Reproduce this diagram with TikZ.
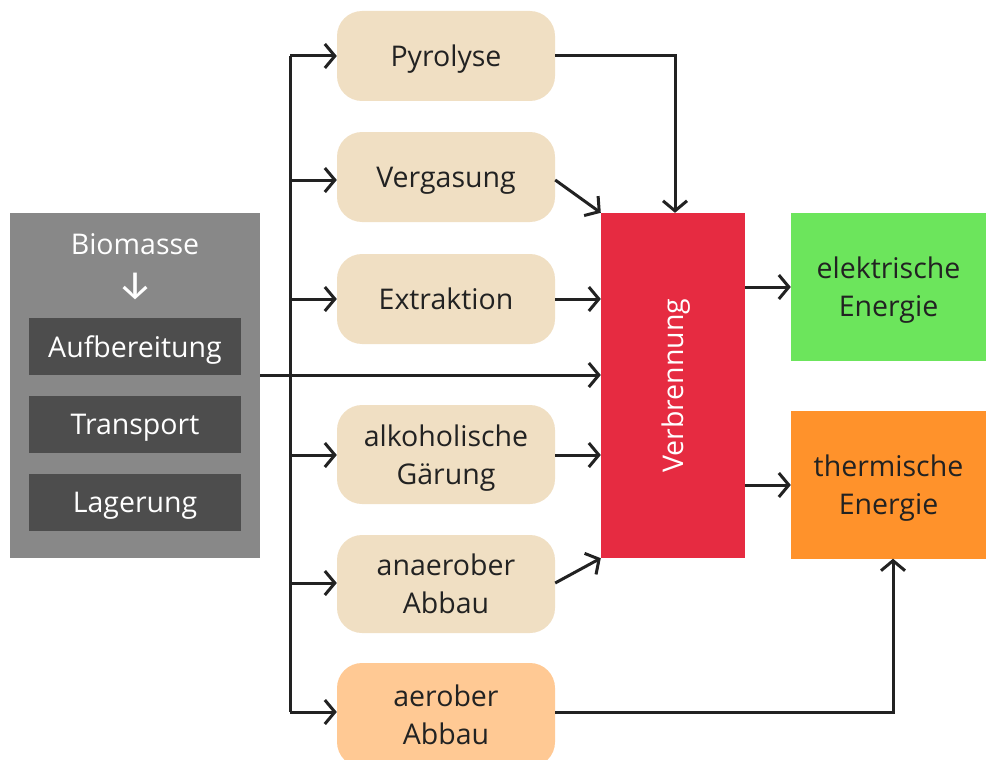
\documentclass[tikz,border=0pt]{standalone}
\usepackage{fontspec}
\setmainfont{Open Sans}
\newfontfamily\arrowfont{Fira Sans}
\usetikzlibrary{arrows.meta}
\definecolor{outergray}{HTML}{888888}
\definecolor{innergray}{HTML}{4D4D4D}
\definecolor{beige}{HTML}{F0DFC3}
\definecolor{peach}{HTML}{FFC994}
\definecolor{burnred}{HTML}{E62B41}
\definecolor{elgreen}{HTML}{6CE55C}
\definecolor{thorange}{HTML}{FF922B}
\definecolor{linecol}{HTML}{222222}
\begin{document}
\begin{tikzpicture}[x=1pt,y=-1pt,
  txt/.style={font=\fontsize{28.5}{38}\selectfont, align=center, text=linecol, text depth=0pt},
  proc/.style={txt, fill=beige, rounded corners=25pt, minimum width=218pt, inner sep=0pt},
  darkbox/.style={fill=innergray, minimum width=212pt, minimum height=57pt, inner sep=0pt, text=white, font=\fontsize{28.5}{30}\selectfont, text depth=0pt},
  energybox/.style={txt, minimum width=195pt, minimum height=148pt, inner sep=0pt},
  conn/.style={line width=3pt, draw=linecol, -{Straight Barb[length=10pt,width=24pt,line width=3pt]}},
  plain/.style={line width=3pt, draw=linecol}]
\useasboundingbox (0,0) rectangle (986,760);
% left block
\node[fill=outergray, minimum width=250pt, minimum height=345pt, inner sep=0pt] (bio) at (135,385.5) {};
\node[text=white, font=\fontsize{28.5}{30}\selectfont, text depth=0pt] (biot) at (135,244) {Biomasse};
\node[text=white, font=\arrowfont\fontsize{40}{40}\selectfont] (bioarrow) at (135,286) {↓};
\node[darkbox] (auf) at (135,346.5) {Aufbereitung};
\node[darkbox] (tra) at (135,424) {Transport};
\node[darkbox] (lag) at (135,502) {Lagerung};
% process boxes
\node[proc, minimum height=90pt] (pyr) at (446,56) {Pyrolyse};
\node[proc, minimum height=90pt] (verg) at (446,177) {Vergasung};
\node[proc, minimum height=90pt] (ext) at (446,299) {Extraktion};
\node[proc, minimum height=99pt] (alk) at (446,454.5) {alkoholische\\Gärung};
\node[proc, minimum height=98pt] (ana) at (446,584) {anaerober\\Abbau};
\node[proc, fill=peach, minimum height=104pt] (aer) at (446,715) {aerober\\Abbau};
% combustion
\node[fill=burnred, minimum width=144pt, minimum height=345pt, inner sep=0pt] (ver) at (673,385.5) {};
\node[rotate=90, text=white, font=\fontsize{28.5}{30}\selectfont, text depth=0pt] (vert) at (673,385.5) {Verbrennung};
% energy
\node[energybox, fill=elgreen] (el) at (888.5,287) {elektrische\\Energie};
\node[energybox, fill=thorange] (th) at (888.5,484.5) {thermische\\Energie};
% bus
\coordinate (bt) at (290,56);
\coordinate (bb) at (290,712);
\draw[plain] (bt) -- (bb);
\draw[conn] (bt) -- (pyr.west);
\draw[conn] (290,180) -- (verg.west |- 0,180);
\draw[conn] (290,299) -- (ext.west);
\draw[conn] (290,455) -- (alk.west |- 0,455);
\draw[conn] (290,583) -- (ana.west |- 0,583);
\draw[conn] (bb) -- (aer.west |- bb);
% main line
\draw[conn] (bio.east |- 0,375) -- (ver.west |- 0,375);
% into Verbrennung
\draw[conn] (pyr.east) -| (ver.north -| 675,0);
\draw[conn] (verg.east |- 0,180) -- (ver.north west);
\draw[conn] (ext.east) -- (ver.west |- ext.east);
\draw[conn] (alk.east |- 0,455) -- (ver.west |- 0,455);
\draw[conn] (ana.east |- 0,583) -- (ver.south west);
% outputs
\draw[conn] (ver.east |- 0,287) -- (el.west |- 0,287);
\draw[conn] (ver.east |- 0,485) -- (th.west |- 0,485);
\draw[conn] (aer.east |- 0,712) -| (th.south -| 893,0);
\end{tikzpicture}
\end{document}
